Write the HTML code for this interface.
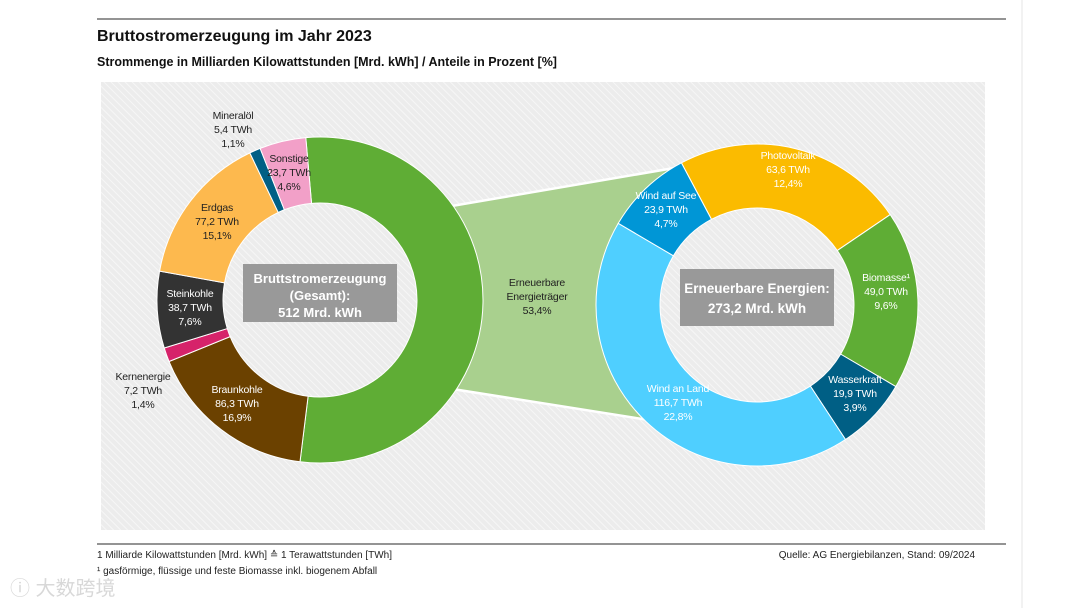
<!DOCTYPE html>
<html><head><meta charset="utf-8">
<style>
html,body{margin:0;padding:0;background:#fff;width:1080px;height:608px;overflow:hidden}
svg text{font-family:"Liberation Sans Narrow","Liberation Sans",sans-serif}
</style></head>
<body>
<svg width="1080" height="608" viewBox="0 0 1080 608" xmlns="http://www.w3.org/2000/svg">
<defs>
<pattern id="hatch" width="5" height="5" patternUnits="userSpaceOnUse" patternTransform="rotate(-45)">
<rect width="5" height="5" fill="#ececec"/><line x1="0" y1="0" x2="0" y2="5" stroke="#f6f6f6" stroke-width="2"/>
</pattern>
</defs>
<line x1="1022" y1="0" x2="1022" y2="608" stroke="#e4e4e4"/>
<line x1="97" y1="19" x2="1006" y2="19" stroke="#555" stroke-width="1.2"/>
<text x="97" y="41" font-size="16" font-weight="bold" fill="#111">Bruttostromerzeugung im Jahr 2023</text>
<text x="97" y="66" font-size="12.5" font-weight="bold" fill="#111">Strommenge  in Milliarden Kilowattstunden [Mrd. kWh] / Anteile in Prozent [%]</text>
<rect x="101" y="82" width="884" height="448" fill="url(#hatch)"/>
<polygon points="440,208 680,167 680,425 440,387" fill="#a9d08e" stroke="#fff" stroke-width="2.5"/>
<circle cx="757" cy="305" r="98" fill="url(#hatch)"/>
<g id="left"></g>
<g id="right"></g>
<g id="labels"></g>
<rect x="243" y="264" width="154" height="58" fill="#999"/>
<text x="320" y="283" font-size="13" font-weight="bold" fill="#fff" text-anchor="middle">Bruttstromerzeugung</text>
<text x="320" y="300" font-size="13" font-weight="bold" fill="#fff" text-anchor="middle">(Gesamt):</text>
<text x="320" y="317" font-size="13" font-weight="bold" fill="#fff" text-anchor="middle">512 Mrd. kWh</text>
<rect x="680" y="269" width="154" height="57" fill="#999"/>
<text x="757" y="293" font-size="13.5" font-weight="bold" fill="#fff" text-anchor="middle">Erneuerbare Energien:</text>
<text x="757" y="313" font-size="13.5" font-weight="bold" fill="#fff" text-anchor="middle">273,2  Mrd. kWh</text>
<line x1="97" y1="544" x2="1006" y2="544" stroke="#555" stroke-width="1.2"/>
<text x="97" y="558" font-size="10" fill="#222">1 Milliarde Kilowattstunden [Mrd. kWh] ≙ 1 Terawattstunden [TWh]</text>
<text x="97" y="574" font-size="10" fill="#222">¹ gasförmige, flüssige und feste Biomasse inkl. biogenem Abfall</text>
<text x="975" y="558" font-size="10" fill="#222" text-anchor="end">Quelle: AG Energiebilanzen, Stand: 09/2024</text>
<text x="10" y="595" font-size="20" font-family="'Noto Sans CJK SC',sans-serif" fill="#d8d8d8">ⓘ 大数跨境</text>
</svg>
<script>
const leftCats=["Erneuerbare Energieträger","Braunkohle","Kernenergie","Steinkohle","Erdgas","Mineralöl","Sonstige"];
const leftTWh=["","86,3","7,2","38,7","77,2","5,4","23,7"];
const leftPct=[53.4,16.9,1.4,7.6,15.1,1.1,4.6];
const leftColors=["#5fad35","#6b4100","#d6236a","#333333","#fdb94e","#005f85","#f2a0c8"];
const rightCats=["Photovoltaik","Biomasse¹","Wasserkraft","Wind an Land","Wind auf See"];
const rightTWh=[63.6,49.0,19.9,116.7,23.9];
const rightPct=[12.4,9.6,3.9,22.8,4.7];
const rightColors=["#fbbb00","#5fad35","#005f85","#4fcfff","#0096d6"];
const NS="http://www.w3.org/2000/svg";
const fmt=v=>v.toFixed(1).replace('.',',');
function pt(cx,cy,r,a){const t=a*Math.PI/180;return [cx+r*Math.sin(t),cy-r*Math.cos(t)];}
function arc(cx,cy,R,r,a0,a1){const [x0,y0]=pt(cx,cy,R,a0),[x1,y1]=pt(cx,cy,R,a1),[x2,y2]=pt(cx,cy,r,a1),[x3,y3]=pt(cx,cy,r,a0);const l=(a1-a0)>180?1:0;
return `M${x0},${y0}A${R},${R} 0 ${l} 1 ${x1},${y1}L${x2},${y2}A${r},${r} 0 ${l} 0 ${x3},${y3}Z`;}
function label(g,x,y,lines,color,name){lines.forEach((s,i)=>{const t=document.createElementNS(NS,'text');t.setAttribute('x',x);t.setAttribute('y',y+i*14);t.setAttribute('font-size','10.5');t.setAttribute('letter-spacing','-0.2');t.setAttribute('fill',color);t.setAttribute('text-anchor','middle');t.textContent=s;


g.appendChild(t);});}
const L={cx:320,cy:300,R:163,r:97},Rr={cx:757,cy:305,R:161,r:97};
const lg=document.getElementById('left'),rg=document.getElementById('right'),lab=document.getElementById('labels');
const lTot=leftPct.reduce((a,b)=>a+b,0);
let a=-5;
leftPct.forEach((v,i)=>{const s=v/lTot*360;const p=document.createElementNS(NS,'path');p.setAttribute('d',arc(L.cx,L.cy,L.R,L.r,a,a+s));p.setAttribute('fill',leftColors[i]);p.setAttribute('stroke','#fff');p.setAttribute('stroke-width','1');


lg.appendChild(p);a+=s;});
const rTot=rightTWh.reduce((x,y)=>x+y,0);
a=-28;
rightTWh.forEach((v,i)=>{const s=v/rTot*360;const p=document.createElementNS(NS,'path');p.setAttribute('d',arc(Rr.cx,Rr.cy,Rr.R,Rr.r,a,a+s));p.setAttribute('fill',rightColors[i]);p.setAttribute('stroke','#fff');p.setAttribute('stroke-width','1');


rg.appendChild(p);a+=s;});
const lPos=[[537,286,'#222'],[237,393,'#fff'],[143,380,'#222'],[190,297,'#fff'],[217,211,'#222'],[233,119,'#222'],[289,162,'#222']];
leftCats.forEach((c,i)=>{const [x,y,col]=lPos[i];let lines=i===0?["Erneuerbare","Energieträger",fmt(leftPct[i])+"%"]:[c,leftTWh[i]+" TWh",fmt(leftPct[i])+"%"];
label(lab,x,y,lines,col,'left-label-'+c.toLowerCase().split(' ')[0]);});
const rPos=[[788,159,'#fff'],[886,281,'#fff'],[855,383,'#fff'],[678,392,'#fff'],[666,199,'#fff']];
rightCats.forEach((c,i)=>{const [x,y,col]=rPos[i];label(lab,x,y,[c,fmt(rightTWh[i])+" TWh",fmt(rightPct[i])+"%"],col,'right-label-'+c.toLowerCase().replace(/[^a-z]+/g,'-'));});
</script>
</body></html>
